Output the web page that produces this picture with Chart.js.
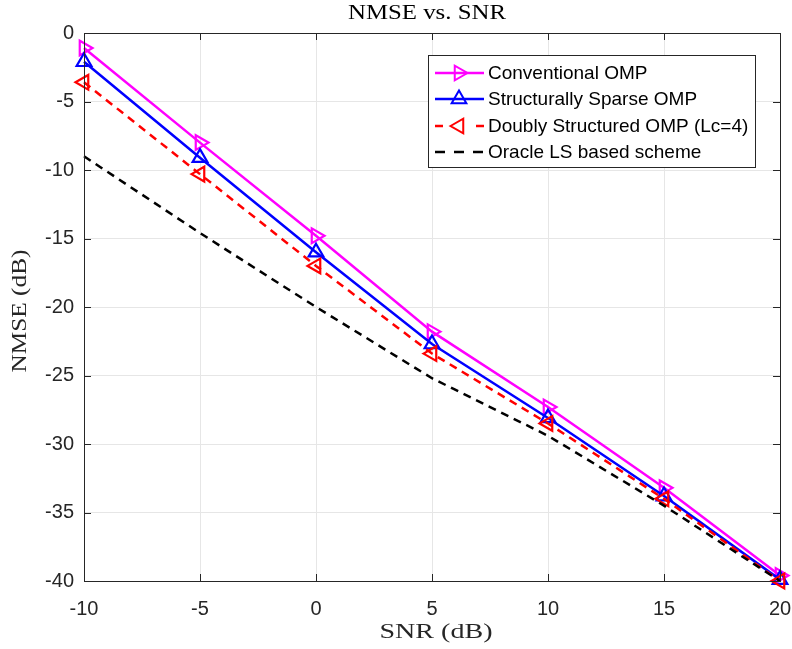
<!DOCTYPE html>
<html>
<head>
<meta charset="utf-8">
<script src="https://cdn.jsdelivr.net/npm/chart.js@4.4.1/dist/chart.umd.min.js"></script>
<style>
html,body{margin:0;padding:0;background:#fff;}
#wrap{width:792px;height:649px;position:relative;}
</style>
</head>
<body>
<div id="wrap"><canvas id="c" width="792" height="649"></canvas></div>
<script>
const snr = [-10, -5, 0, 5, 10, 15, 20];
const conventionalOMP = [-1.1, -8.0, -14.8, -21.8, -27.3, -33.2, -39.6];
const structuredOMP = [-2.1, -9.1, -16.0, -22.7, -28.1, -33.8, -39.9];
const doublyOMP = [-3.6, -10.3, -17.0, -23.4, -28.5, -34.0, -40.0];
const oracleLS = [-9.0, -14.6, -20.0, -25.2, -29.4, -34.5, -40.0];
const xTicks = [-10, -5, 0, 5, 10, 15, 20];
const yTicks = [0, -5, -10, -15, -20, -25, -30, -35, -40];
const seriesNames = ['Conventional OMP', 'Structurally Sparse OMP', 'Doubly Structured OMP (Lc=4)', 'Oracle LS based scheme'];

const toXY = arr => snr.map((x, i) => ({x: x, y: arr[i]}));
const SERIF = '"Liberation Serif", "Times New Roman", serif';

function triPath(ctx, x, y, r, rotDeg) {
  let rad = rotDeg * Math.PI / 180;
  ctx.beginPath();
  ctx.moveTo(x + Math.sin(rad) * r, y - Math.cos(rad) * r);
  rad += 2 * Math.PI / 3;
  ctx.lineTo(x + Math.sin(rad) * r, y - Math.cos(rad) * r);
  rad += 2 * Math.PI / 3;
  ctx.lineTo(x + Math.sin(rad) * r, y - Math.cos(rad) * r);
  ctx.closePath();
}

function stretchText(ctx, text, x, y, targetW) {
  const w = ctx.measureText(text).width;
  const k = targetW / w;
  ctx.save();
  ctx.translate(x, y);
  ctx.scale(k, 1);
  ctx.fillText(text, 0, 0);
  ctx.restore();
}

const decor = {
  id: 'decor',
  afterDraw(chart) {
    const ctx = chart.ctx;
    const a = chart.chartArea;
    const xs = chart.scales.x, ys = chart.scales.y;
    ctx.save();
    ctx.strokeStyle = '#262626';
    ctx.lineWidth = 1;
    ctx.setLineDash([]);
    ctx.strokeRect(Math.round(a.left) + 0.5, Math.round(a.top) + 0.5, Math.round(a.right - a.left), Math.round(a.bottom - a.top));
    const tl = 7;
    ctx.beginPath();
    xTicks.forEach(v => {
      const px = Math.round(xs.getPixelForValue(v)) + 0.5;
      ctx.moveTo(px, a.bottom); ctx.lineTo(px, a.bottom - tl);
      ctx.moveTo(px, a.top); ctx.lineTo(px, a.top + tl);
    });
    yTicks.forEach(v => {
      const py = Math.round(ys.getPixelForValue(v)) + 0.5;
      ctx.moveTo(a.left, py); ctx.lineTo(a.left + tl, py);
      ctx.moveTo(a.right, py); ctx.lineTo(a.right - tl, py);
    });
    ctx.stroke();
    ctx.fillStyle = '#000';
    ctx.textAlign = 'center';
    ctx.textBaseline = 'middle';
    ctx.font = '20px ' + SERIF;
    stretchText(ctx, 'NMSE vs. SNR', 427, 14, 158);
    ctx.fillStyle = '#262626';
    stretchText(ctx, 'SNR (dB)', 436, 633, 113);
    ctx.save();
    ctx.translate(21, 311);
    ctx.rotate(-Math.PI / 2);
    stretchText(ctx, 'NMSE (dB)', 0, 0, 123);
    ctx.restore();
    const lx = 428, ly = 55, lw = 327, lh = 112;
    ctx.fillStyle = '#fff';
    ctx.fillRect(lx, ly, lw, lh);
    ctx.strokeStyle = '#262626';
    ctx.lineWidth = 1;
    ctx.strokeRect(lx + 0.5, ly + 0.5, lw, lh);
    const rowsY = [73, 99, 126, 152];
    chart.data.datasets.forEach((ds, i) => {
      const y = rowsY[i];
      ctx.strokeStyle = ds.borderColor;
      ctx.lineWidth = 2.5;
      ctx.beginPath();
      if (ds.borderDash && ds.borderDash.length) {
        if (ds.pointRadius > 0) {
          ctx.setLineDash([]);
          ctx.moveTo(435, y); ctx.lineTo(443, y);
          ctx.moveTo(476, y); ctx.lineTo(484, y);
        } else {
          ctx.setLineDash([10, 9]);
          ctx.moveTo(435, y); ctx.lineTo(484, y);
        }
      } else {
        ctx.setLineDash([]);
        ctx.moveTo(435, y); ctx.lineTo(484, y);
      }
      ctx.stroke();
      ctx.setLineDash([]);
      if (ds.pointRadius > 0) {
        ctx.lineWidth = 2;
        triPath(ctx, 459, y, ds.pointRadius, ds.pointRotation);
        ctx.stroke();
      }
      ctx.fillStyle = '#000';
      ctx.textAlign = 'left';
      ctx.textBaseline = 'middle';
      ctx.font = '19px "Liberation Sans", Arial, sans-serif';
      ctx.fillText(seriesNames[i], 488, y + 1);
    });
    ctx.restore();
  }
};

new Chart(document.getElementById('c'), {
  type: 'line',
  data: {
    datasets: [
      {label: seriesNames[0], data: toXY(conventionalOMP), borderColor: '#ff00ff', borderWidth: 2.5,
       pointStyle: 'triangle', pointRotation: 90, pointRadius: 8.5, pointBorderWidth: 2.2,
       pointBackgroundColor: 'rgba(0,0,0,0)', pointBorderColor: '#ff00ff', clip: false, order: 4},
      {label: seriesNames[1], data: toXY(structuredOMP), borderColor: '#0000ff', borderWidth: 2.5,
       pointStyle: 'triangle', pointRotation: 0, pointRadius: 8.5, pointBorderWidth: 2.2,
       pointBackgroundColor: 'rgba(0,0,0,0)', pointBorderColor: '#0000ff', clip: false, order: 3},
      {label: seriesNames[2], data: toXY(doublyOMP), borderColor: '#ff0000', borderWidth: 2.5, borderDash: [8, 6],
       pointStyle: 'triangle', pointRotation: -90, pointRadius: 8.5, pointBorderWidth: 2.2,
       pointBackgroundColor: 'rgba(0,0,0,0)', pointBorderColor: '#ff0000', clip: false, order: 2},
      {label: seriesNames[3], data: toXY(oracleLS), borderColor: '#000000', borderWidth: 2.5, borderDash: [8, 6],
       pointRadius: 0, clip: false, order: 1}
    ]
  },
  options: {
    responsive: false,
    animation: false,
    devicePixelRatio: 1,
    layout: {padding: {top: 33, right: 12, left: 0, bottom: 0}},
    plugins: {legend: {display: false}, title: {display: false}, tooltip: {enabled: false}},
    elements: {line: {tension: 0}},
    scales: {
      x: {
        type: 'linear', min: -10, max: 20,
        afterFit: s => { s.height = 68; s.paddingLeft = 0; s.paddingRight = 0; },
        afterBuildTicks: s => { s.ticks = xTicks.map(v => ({value: v})); },
        grid: {color: '#e6e6e6', drawTicks: false, lineWidth: 1},
        border: {display: false},
        ticks: {font: {family: '"Liberation Sans", Arial, sans-serif', size: 20}, color: '#262626', padding: 16, maxRotation: 0}
      },
      y: {
        type: 'linear', min: -40, max: 0,
        afterFit: s => { s.width = 84; s.paddingTop = 0; s.paddingBottom = 0; },
        afterBuildTicks: s => { s.ticks = yTicks.map(v => ({value: v})); },
        grid: {color: '#e6e6e6', drawTicks: false, lineWidth: 1},
        border: {display: false},
        ticks: {font: {family: '"Liberation Sans", Arial, sans-serif', size: 20}, color: '#262626', padding: 10}
      }
    }
  },
  plugins: [decor]
});
</script>
</body>
</html>
